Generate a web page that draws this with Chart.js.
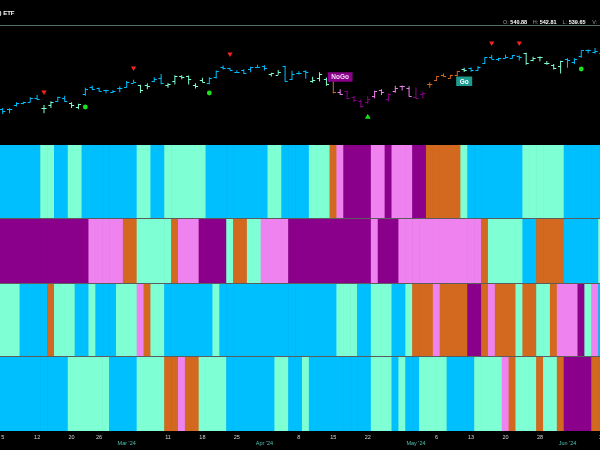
<!DOCTYPE html>
<html>
<head>
<meta charset="utf-8">
<title>GoNoGo</title>
<script src="https://cdn.jsdelivr.net/npm/chart.js@4.4.1/dist/chart.umd.min.js"></script>
<style>
  html, body { margin: 0; padding: 0; background: #000; }
  #quadro { position: relative; width: 600px; height: 450px; overflow: hidden; background: #000;
            font-family: "Liberation Sans", Arial, sans-serif; }
  #graficoGoNoGo { position: absolute; left: 0; top: 0; }
  .titulo { position: absolute; left: -0.5px; top: 10px; color: #fff; font-weight: bold; font-size: 6px; white-space: nowrap; }
  .linha { position: absolute; left: 0; top: 25px; width: 600px; height: 1px; background: #4f6f68; }
  .ohlc { position: absolute; top: 19px; font-size: 5.5px; white-space: nowrap; }
  .ohlc .k { color: #9a9a9a; }
  .ohlc .v { color: #fff; font-weight: bold; }
</style>
</head>
<body>
<div id="quadro">
  <canvas id="graficoGoNoGo" width="600" height="450"></canvas>
  <div class="titulo">) ETF</div>
  <div class="linha"></div>
  <div class="ohlc" style="left:503px"><span class="k">O:</span> <span class="v">540.88</span></div>
  <div class="ohlc" style="left:532.7px"><span class="k">H:</span> <span class="v">542.81</span></div>
  <div class="ohlc" style="left:562.6px"><span class="k">L:</span> <span class="v">539.65</span></div>
  <div class="ohlc" style="left:592.3px"><span class="k">V:</span></div>
</div>
<script>
// Dias de pregão (uma barra / uma célula por dia)
const dias = [
    '2024-02-05', '2024-02-06', '2024-02-07', '2024-02-08', '2024-02-09', '2024-02-12', '2024-02-13', '2024-02-14',
    '2024-02-15', '2024-02-16', '2024-02-20', '2024-02-21', '2024-02-22', '2024-02-23', '2024-02-26', '2024-02-27',
    '2024-02-28', '2024-02-29', '2024-03-01', '2024-03-04', '2024-03-05', '2024-03-06', '2024-03-07', '2024-03-08',
    '2024-03-11', '2024-03-12', '2024-03-13', '2024-03-14', '2024-03-15', '2024-03-18', '2024-03-19', '2024-03-20',
    '2024-03-21', '2024-03-22', '2024-03-25', '2024-03-26', '2024-03-27', '2024-03-28', '2024-04-01', '2024-04-02',
    '2024-04-03', '2024-04-04', '2024-04-05', '2024-04-08', '2024-04-09', '2024-04-10', '2024-04-11', '2024-04-12',
    '2024-04-15', '2024-04-16', '2024-04-17', '2024-04-18', '2024-04-19', '2024-04-22', '2024-04-23', '2024-04-24',
    '2024-04-25', '2024-04-26', '2024-04-29', '2024-04-30', '2024-05-01', '2024-05-02', '2024-05-03', '2024-05-06',
    '2024-05-07', '2024-05-08', '2024-05-09', '2024-05-10', '2024-05-13', '2024-05-14', '2024-05-15', '2024-05-16',
    '2024-05-17', '2024-05-20', '2024-05-21', '2024-05-22', '2024-05-23', '2024-05-24', '2024-05-28', '2024-05-29',
    '2024-05-30', '2024-05-31', '2024-06-03', '2024-06-04', '2024-06-05', '2024-06-06', '2024-06-07', '2024-06-10'
];

// Preços (estimados a partir da imagem)
const abertura = [
    493.7, 493.5, 496.3, 498.1, 498.8, 501.2, 494.5, 496.8, 499.3, 501.7, 497.7, 495.4, 504.0, 509.3, 508.3, 506.7,
    505.3, 508.1, 508.9, 512.0, 510.2, 510.6, 513.1, 515.5, 510.5, 513.5, 517.1, 516.9, 510.2, 514.0, 512.0, 515.8,
    523.4, 522.1, 519.8, 521.2, 521.7, 523.2, 523.8, 518.2, 517.7, 523.5, 514.5, 519.2, 520.5, 513.5, 515.7, 514.4,
    515.1, 505.5, 506.5, 501.8, 499.4, 498.5, 502.5, 506.8, 500.5, 506.4, 510.1, 508.6, 502.2, 504.2, 511.2, 513.8,
    517.6, 515.3, 517.4, 521.8, 522.6, 521.1, 525.8, 529.9, 528.8, 529.6, 529.3, 530.7, 532.9, 527.9, 530.3, 525.7,
    524.5, 523.6, 529.0, 526.5, 530.8, 534.9, 533.7, 533.2
];
const maxima = [
    494.4, 494.3, 498.5, 498.7, 502.0, 503.5, 496.5, 499.1, 502.2, 502.9, 498.4, 497.4, 508.5, 510.1, 508.8, 507.2,
    506.9, 509.7, 513.3, 514.2, 510.7, 511.7, 515.9, 518.2, 511.9, 517.4, 517.3, 517.1, 511.7, 515.5, 516.0, 520.6,
    524.1, 522.6, 520.9, 521.6, 523.2, 524.6, 524.4, 519.0, 521.0, 523.9, 520.4, 520.2, 520.8, 516.2, 519.5, 515.8,
    515.3, 507.5, 506.6, 502.8, 500.5, 503.0, 506.5, 507.6, 504.5, 509.9, 510.2, 509.6, 508.7, 505.9, 512.5, 516.6,
    518.6, 517.7, 520.2, 522.6, 522.7, 523.8, 530.1, 531.5, 529.5, 531.6, 531.5, 531.2, 533.1, 530.3, 530.5, 527.3,
    525.2, 527.5, 529.3, 529.2, 534.7, 535.4, 536.4, 536.0
];
const minima = [
    490.2, 490.8, 495.5, 497.0, 498.4, 500.2, 490.7, 494.4, 498.8, 498.8, 494.4, 493.6, 503.0, 507.1, 505.9, 504.8,
    505.0, 505.4, 508.6, 512.0, 504.9, 507.6, 512.4, 511.1, 508.5, 510.9, 514.5, 510.9, 508.1, 512.4, 511.1, 515.1,
    521.3, 520.9, 519.0, 518.4, 519.5, 522.8, 520.7, 516.5, 517.6, 512.8, 514.0, 517.8, 514.9, 512.1, 512.9, 510.0,
    504.5, 503.5, 500.5, 498.5, 494.5, 497.0, 501.2, 503.5, 499.0, 505.0, 506.7, 502.5, 501.0, 501.0, 508.6, 513.3,
    516.4, 515.1, 516.7, 519.6, 519.7, 520.6, 525.2, 528.5, 527.3, 529.2, 529.1, 527.6, 524.7, 527.1, 527.1, 524.6,
    521.3, 518.6, 522.6, 525.0, 529.6, 532.7, 532.5, 532.6
];
const fechamento = [
    492.6, 494.0, 498.1, 498.3, 501.2, 501.0, 494.1, 498.6, 502.0, 499.5, 496.8, 497.2, 507.5, 507.9, 506.0, 506.9,
    506.3, 508.1, 512.9, 512.3, 507.2, 509.8, 514.8, 511.7, 511.3, 516.8, 516.0, 515.0, 509.8, 512.9, 515.7, 520.5,
    522.2, 521.2, 519.8, 518.8, 523.2, 523.1, 522.2, 518.8, 519.4, 513.1, 518.4, 518.7, 519.3, 514.1, 518.0, 511.0,
    505.5, 504.5, 501.5, 500.0, 496.0, 501.0, 506.0, 505.8, 504.0, 508.3, 510.1, 502.7, 501.4, 505.0, 511.3, 516.6,
    517.1, 517.2, 520.2, 520.8, 520.9, 523.3, 529.8, 528.7, 529.5, 530.1, 531.4, 529.8, 526.0, 529.4, 529.8, 526.1,
    522.6, 527.4, 527.8, 528.4, 534.7, 534.7, 534.0, 535.7
];

// Estado da tendência por dia: B = Go forte, A = Go fraco, O = indefinido, V = NoGo fraco, P = NoGo forte
// A primeira faixa também colore as barras de preço
const faixa1 = 'BBBBBBAABBAABBBBBBBBAABBAAAAAABBBBBBBBBAABBBBAAAOVPPPPVVPVVVPPOOOOOABBBBBBBBAAAAAABBBBBB'.split('');
const faixa2 = 'PPPPPPPPPPPPPVVVVVOOAAAAAOVVVPPPPAOOAAVVVVPPPPPPPPPPPPVPPPVVVVVVVVVVVVOAAAAABBOOOOBBBBBA'.split('');
const faixa3 = 'AAABBBBOAAABBABBBAAAVOAABBBBBBBABBBBBBBBBBBBBBBBBAAABBAAABBAOOOVOOOOPPOVOOOAOOAAOVVVPAVB'.split('');
const faixa4 = 'BBBBBBBBBBAAAAAABBBBAAAAOOVOOAAAABBBBBBBAABBABBBBBBBBBAAABABBAAAABBBBAAAAVOAAAOAAOPPPPOO'.split('');

// Rótulos do eixo X
const rotulosDias = ['5', '12', '20', '26', '11', '18', '25', '8', '15', '22', '6', '13', '20', '28', '10'];
const datasDias = ['2024-02-05', '2024-02-12', '2024-02-20', '2024-02-26', '2024-03-11', '2024-03-18', '2024-03-25',
    '2024-04-08', '2024-04-15', '2024-04-22', '2024-05-06', '2024-05-13', '2024-05-20', '2024-05-28', '2024-06-10'];
const rotulosMeses = ["Mar '24", "Apr '24", "May '24", "Jun '24"];
const datasMeses = ['2024-03-01', '2024-04-01', '2024-05-01', '2024-06-03'];

// Sinais sobre o gráfico de preço
const alertaBaixaDatas = ['2024-02-13', '2024-03-04', '2024-03-22', '2024-05-16', '2024-05-22'];
const alertaBaixaValores = [505.6, 522.4, 532.2, 539.9, 539.9];
const continuacaoDatas = ['2024-02-22', '2024-03-19', '2024-06-05'];
const continuacaoValores = [495.1, 504.9, 521.7];
const alertaAltaDatas = ['2024-04-22'];
const alertaAltaValores = [488.1];
const etiquetaTextos = ['NoGo', 'Go'];
const etiquetaDatas = ['2024-04-16', '2024-05-10'];
const etiquetaValores = [516.1, 513.1];

const coresTendencia = { B: '#00bfff', A: '#7fffd4', O: '#d2691e', V: '#ee82ee', P: '#8b008b' };
const fundoEtiqueta = { NoGo: '#8b008b', Go: '#1f9a90' };
const textoEtiqueta = { NoGo: '#f6dcf6', Go: '#ffffff' };

const posicao = (d) => dias.indexOf(d);

// Marcas do eixo X: dias na primeira linha, meses na segunda
const marcasEixo = datasDias.map((d, i) => ({ value: posicao(d), texto: [rotulosDias[i]], mes: false }))
    .concat(datasMeses.map((d, i) => ({ value: posicao(d), texto: ['', rotulosMeses[i]], mes: true })))
    .sort((a, b) => a.value - b.value);

// Traços de abertura (esquerda) e fechamento (direita)
const tracosOHLC = {
    id: 'tracosOHLC',
    afterDatasetsDraw(chart) {
        const { ctx, chartArea, scales: { x, y } } = chart;
        ctx.save();
        ctx.beginPath();
        ctx.rect(chartArea.left, chartArea.top, chartArea.width, y.bottom - chartArea.top);
        ctx.clip();
        ctx.lineWidth = 1;
        dias.forEach((d, i) => {
            const px = x.getPixelForValue(i);
            const yo = Math.round(y.getPixelForValue(abertura[i])) + 0.5;
            const yc = Math.round(y.getPixelForValue(fechamento[i])) + 0.5;
            ctx.strokeStyle = coresTendencia[faixa1[i]];
            ctx.beginPath();
            ctx.moveTo(px - 2.6, yo);
            ctx.lineTo(px, yo);
            ctx.moveTo(px, yc);
            ctx.lineTo(px + 2.6, yc);
            ctx.stroke();
        });
        ctx.restore();
    }
};

// Etiquetas "NoGo" / "Go"
const etiquetas = {
    id: 'etiquetas',
    afterDatasetsDraw(chart) {
        const { ctx, scales: { x, y } } = chart;
        ctx.save();
        ctx.font = 'bold 6.5px "Liberation Sans", Arial, sans-serif';
        ctx.textAlign = 'center';
        ctx.textBaseline = 'middle';
        etiquetaTextos.forEach((t, i) => {
            const px = x.getPixelForValue(posicao(etiquetaDatas[i]));
            const py = y.getPixelForValue(etiquetaValores[i]);
            const w = ctx.measureText(t).width + 7;
            const h = 9.5;
            ctx.fillStyle = fundoEtiqueta[t];
            ctx.fillRect(px - w / 2, py - h / 2, w, h);
            ctx.fillStyle = textoEtiqueta[t];
            ctx.fillText(t, px, py + 0.5);
        });
        ctx.restore();
    }
};

// Linhas finas entre as faixas
const divisorias = {
    id: 'divisorias',
    afterDatasetsDraw(chart) {
        const { ctx, chartArea } = chart;
        ctx.save();
        ctx.strokeStyle = '#5c5c5c';
        ctx.lineWidth = 1;
        ['f2', 'f3', 'f4'].forEach(id => {
            const yy = Math.round(chart.scales[id].top) - 0.5;
            ctx.beginPath();
            ctx.moveTo(chartArea.left, yy);
            ctx.lineTo(chartArea.right, yy);
            ctx.stroke();
        });
        ctx.restore();
    }
};

function datasetFaixa(codigos, eixo) {
    return {
        type: 'bar',
        yAxisID: eixo,
        data: codigos.map((c, i) => ({ x: i, y: [0, 1] })),
        backgroundColor: codigos.map(c => coresTendencia[c]),
        borderWidth: 0,
        grouped: false,
        barPercentage: 1,
        categoryPercentage: 1
    };
}

function datasetSinal(datas, valores, estilo, cor, raio, rotacao) {
    return {
        type: 'line',
        yAxisID: 'y',
        showLine: false,
        data: datas.map((d, i) => ({ x: posicao(d), y: valores[i] })),
        pointStyle: estilo,
        rotation: rotacao,
        pointRadius: raio,
        backgroundColor: cor,
        borderColor: cor,
        borderWidth: 0
    };
}

const eixoFaixa = (peso) => ({ type: 'linear', position: 'right', stack: 'painel', stackWeight: peso, min: 0, max: 1, display: false });

new Chart(document.getElementById('graficoGoNoGo').getContext('2d'), {
    type: 'bar',
    data: {
        datasets: [
            datasetSinal(alertaBaixaDatas, alertaBaixaValores, 'triangle', '#ff1f1f', 3, 180),
            datasetSinal(alertaAltaDatas, alertaAltaValores, 'triangle', '#16e016', 3.3, 0),
            datasetSinal(continuacaoDatas, continuacaoValores, 'circle', '#1fe01f', 2.4, 0),
            {
                type: 'bar',
                yAxisID: 'y',
                data: dias.map((d, i) => ({ x: i, y: [minima[i], maxima[i]] })),
                backgroundColor: faixa1.map(c => coresTendencia[c]),
                borderWidth: 0,
                grouped: false,
                barThickness: 1,
                inflateAmount: 0
            },
            datasetFaixa(faixa1, 'f1'),
            datasetFaixa(faixa2, 'f2'),
            datasetFaixa(faixa3, 'f3'),
            datasetFaixa(faixa4, 'f4')
        ]
    },
    options: {
        responsive: false,
        animation: false,
        events: [],
        layout: { padding: { top: 26, left: 0, right: 0, bottom: 0 }, autoPadding: false },
        plugins: { legend: { display: false }, tooltip: { enabled: false } },
        scales: {
            x: {
                type: 'linear',
                offset: false,
                min: -0.39,
                max: 86.72,
                grid: { display: false, drawTicks: false, offset: false },
                border: { display: false },
                afterBuildTicks: (escala) => { escala.ticks = marcasEixo.map(m => ({ ...m })); },
                afterFit: (escala) => { escala.height = 19; escala.paddingLeft = 0; escala.paddingRight = 0; },
                ticks: {
                    autoSkip: false,
                    maxRotation: 0,
                    minRotation: 0,
                    padding: 3,
                    font: { family: '"Liberation Sans", Arial, sans-serif', size: 5.5 },
                    color: (c) => (c.tick && c.tick.mes) ? '#52c2b0' : '#d6d6d6',
                    callback: (valor, i, marcas) => marcas[i].texto
                }
            },
            y: { type: 'linear', position: 'right', stack: 'painel', stackWeight: 119, min: 468.5, max: 551.8, display: false },
            f1: eixoFaixa(73.5),
            f2: eixoFaixa(65),
            f3: eixoFaixa(73),
            f4: eixoFaixa(74.5)
        }
    },
    plugins: [tracosOHLC, etiquetas, divisorias]
});
</script>
</body>
</html>
